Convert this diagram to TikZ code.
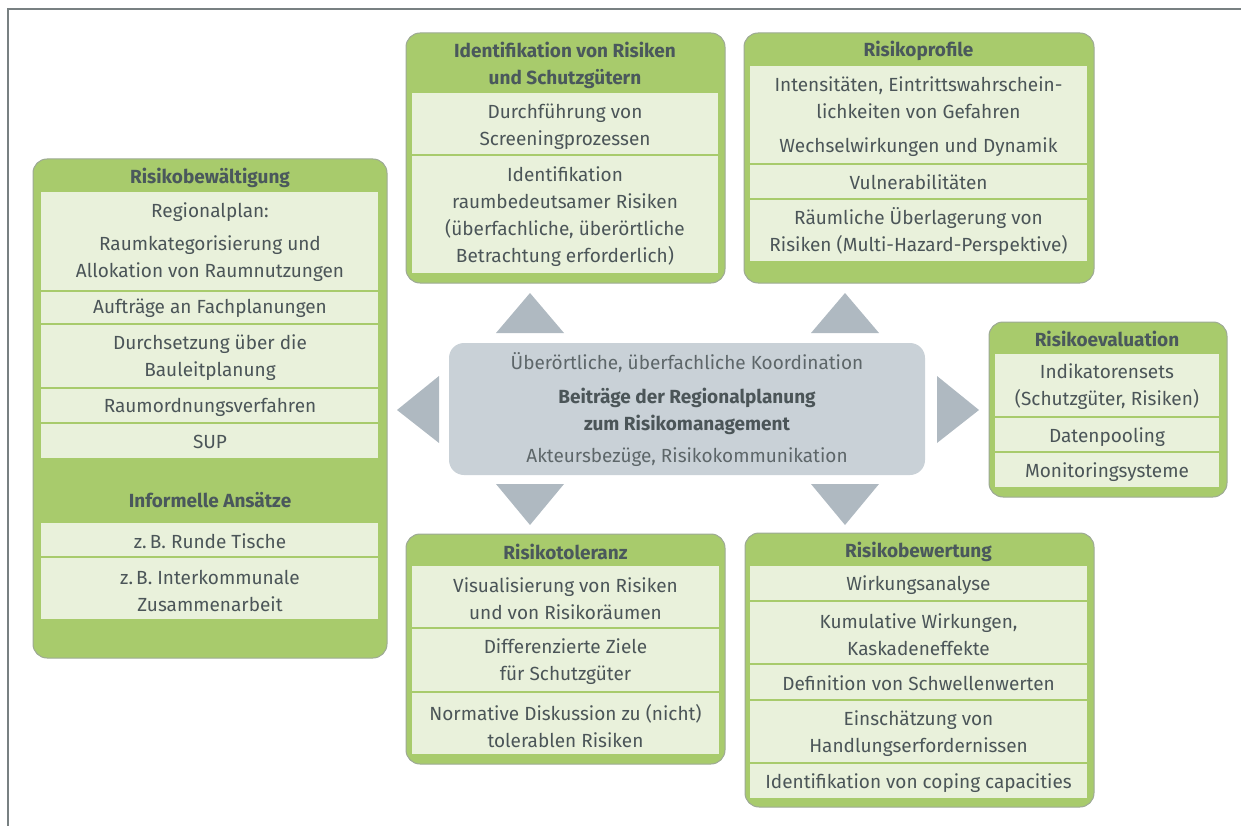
\documentclass[tikz,border=0pt]{standalone}
\usepackage{fontspec}
\setmainfont{Fira Sans}
\definecolor{gruen}{HTML}{A8CB6C}
\definecolor{hellgruen}{HTML}{E9F1DB}
\definecolor{rand}{HTML}{9DA995}
\definecolor{schrift}{HTML}{4B5558}
\definecolor{kopftext}{HTML}{4A585C}
\definecolor{mittegrau}{HTML}{C9D1D7}
\definecolor{pfeilgrau}{HTML}{AFB9C1}
\definecolor{rahmengrau}{HTML}{788082}
\tikzset{
  kasten/.style={fill=gruen, draw=rand, line width=1pt, rounded corners=14pt},
  feld/.style={fill=hellgruen},
  trenner/.style={draw=gruen, line width=2pt},
  kopf/.style={font=\fontsize{19}{27}\selectfont\bfseries, text=kopftext, align=center, inner sep=0pt},
  eintrag/.style={font=\fontsize{19}{27}\selectfont, text=schrift, align=center, inner sep=0pt},
  pfeil/.style={fill=pfeilgrau},
}
\begin{document}
\begin{tikzpicture}[x=1pt,y=-1pt]
            \useasboundingbox (0,0) rectangle (1241,826);
            % Rahmen
            \draw[rahmengrau, line width=2pt] (1241,9) -- (8,9) -- (8,826);
            % Mitte
            \fill[mittegrau, rounded corners=15pt] (449,343) rectangle (925,475);
            \node[eintrag, text=schrift!90] (mitte-1) at (687,363) {Überörtliche, überfachliche Koordination};
            \node[kopf, text=schrift] (mitte-2) at (687,411.5) {Beiträge der Regionalplanung\\zum Risikomanagement};
            \node[eintrag, text=schrift!90] (mitte-3) at (687,457) {Akteursbezüge, Risikokommunikation};
            % Pfeile
            \fill[pfeil] (496,333) -- (564,333) -- (530,293) -- cycle;
            \fill[pfeil] (811,333) -- (879,333) -- (845,293) -- cycle;
            \fill[pfeil] (439,376) -- (439,443) -- (397,410) -- cycle;
            \fill[pfeil] (937,376) -- (937,443) -- (979,410) -- cycle;
            \fill[pfeil] (496,484) -- (564,484) -- (530,525) -- cycle;
            \fill[pfeil] (811,484) -- (879,484) -- (845,525) -- cycle;
            % Risikobewaeltigung
            \draw[kasten] (33,159) rectangle (387,658);
            \fill[feld] (41,192) rectangle (378,458);
            \fill[feld] (41,523) rectangle (378,619);
            \draw[trenner] (41,291) -- (378,291);
            \draw[trenner] (41,324) -- (378,324);
            \draw[trenner] (41,388) -- (378,388);
            \draw[trenner] (41,423) -- (378,423);
            \draw[trenner] (41,557) -- (378,557);
            \node[kopf] (bew-kopf) at (210,178) {Risikobewältigung};
            \node[eintrag] (bew-1) at (210,212) {Regionalplan:};
            \node[eintrag] (bew-2) at (210,258.5) {Raumkategorisierung und\\Allokation von Raumnutzungen};
            \node[eintrag] (bew-3) at (210,308) {Aufträge an Fachplanungen};
            \node[eintrag] (bew-4) at (210,357.5) {Durchsetzung über die\\Bauleitplanung};
            \node[eintrag] (bew-5) at (210,407) {Raumordnungsverfahren};
            \node[eintrag] (bew-6) at (210,442) {SUP};
            \node[kopf] (inf-kopf) at (210,500) {Informelle Ansätze};
            \node[eintrag] (inf-1) at (210,541) {z.\,B. Runde Tische};
            \node[eintrag] (inf-2) at (210,590.5) {z.\,B. Interkommunale\\Zusammenarbeit};
            % Identifikation
            \draw[kasten] (406,33) rectangle (725,283);
            \fill[feld] (412,93) rectangle (718,273);
            \draw[trenner] (412,155) -- (718,155);
            \node[kopf] (id-kopf) at (565,65.5) {Identifikation von Risiken\\und Schutzgütern};
            \node[eintrag] (id-1) at (565,126.5) {Durchführung von\\Screeningprozessen};
            \node[eintrag] (id-2) at (565,216.5) {Identifikation\\raumbedeutsamer Risiken\\(überfachliche, überörtliche\\Betrachtung erforderlich)};
            % Risikoprofile
            \draw[kasten] (744,33) rectangle (1094,283);
            \fill[feld] (750,66) rectangle (1087,261);
            \draw[trenner] (750,164) -- (1087,164);
            \draw[trenner] (750,199) -- (1087,199);
            \node[kopf] (pro-kopf) at (918.5,51) {Risikoprofile};
            \node[eintrag] (pro-1) at (918.5,98) {Intensitäten, Eintrittswahrschein-\\lichkeiten von Gefahren};
            \node[eintrag] (pro-2) at (918.5,147) {Wechselwirkungen und Dynamik};
            \node[eintrag] (pro-3) at (918.5,182) {Vulnerabilitäten};
            \node[eintrag] (pro-4) at (918.5,232) {Räumliche Überlagerung von\\Risiken (Multi-Hazard-Perspektive)};
            % Risikoevaluation
            \draw[kasten] (989,322) rectangle (1227,497);
            \fill[feld] (995,354) rectangle (1219,487);
            \draw[trenner] (995,417) -- (1219,417);
            \draw[trenner] (995,452) -- (1219,452);
            \node[kopf] (eva-kopf) at (1107,339) {Risikoevaluation};
            \node[eintrag] (eva-1) at (1107,386.5) {Indikatorensets\\(Schutzgüter, Risiken)};
            \node[eintrag] (eva-2) at (1107,437) {Datenpooling};
            \node[eintrag] (eva-3) at (1107,472) {Monitoringsysteme};
            % Risikotoleranz
            \draw[kasten] (406,534) rectangle (725,764);
            \fill[feld] (412,566) rectangle (719,754);
            \draw[trenner] (412,628) -- (719,628);
            \draw[trenner] (412,692) -- (719,692);
            \node[kopf] (tol-kopf) at (565.5,552) {Risikotoleranz};
            \node[eintrag] (tol-1) at (565.5,599) {Visualisierung von Risiken\\und von Risikoräumen};
            \node[eintrag] (tol-2) at (565.5,662) {Differenzierte Ziele\\für Schutzgüter};
            \node[eintrag] (tol-3) at (565.5,726) {Normative Diskussion zu (nicht)\\tolerablen Risiken};
            % Risikobewertung
            \draw[kasten] (745,533) rectangle (1094,807);
            \fill[feld] (750,566) rectangle (1087,798);
            \draw[trenner] (750,601) -- (1087,601);
            \draw[trenner] (750,664) -- (1087,664);
            \draw[trenner] (750,700) -- (1087,700);
            \draw[trenner] (750,763) -- (1087,763);
            \node[kopf] (bwt-kopf) at (918.5,552) {Risikobewertung};
            \node[eintrag] (bwt-1) at (918.5,585) {Wirkungsanalyse};
            \node[eintrag] (bwt-2) at (918.5,634.5) {Kumulative Wirkungen,\\Kaskadeneffekte};
            \node[eintrag] (bwt-3) at (918.5,683) {Definition von Schwellenwerten};
            \node[eintrag] (bwt-4) at (918.5,733.5) {Einschätzung von\\Handlungserfordernissen};
            \node[eintrag] (bwt-5) at (918.5,783) {Identifikation von coping capacities};
\end{tikzpicture}
\end{document}
